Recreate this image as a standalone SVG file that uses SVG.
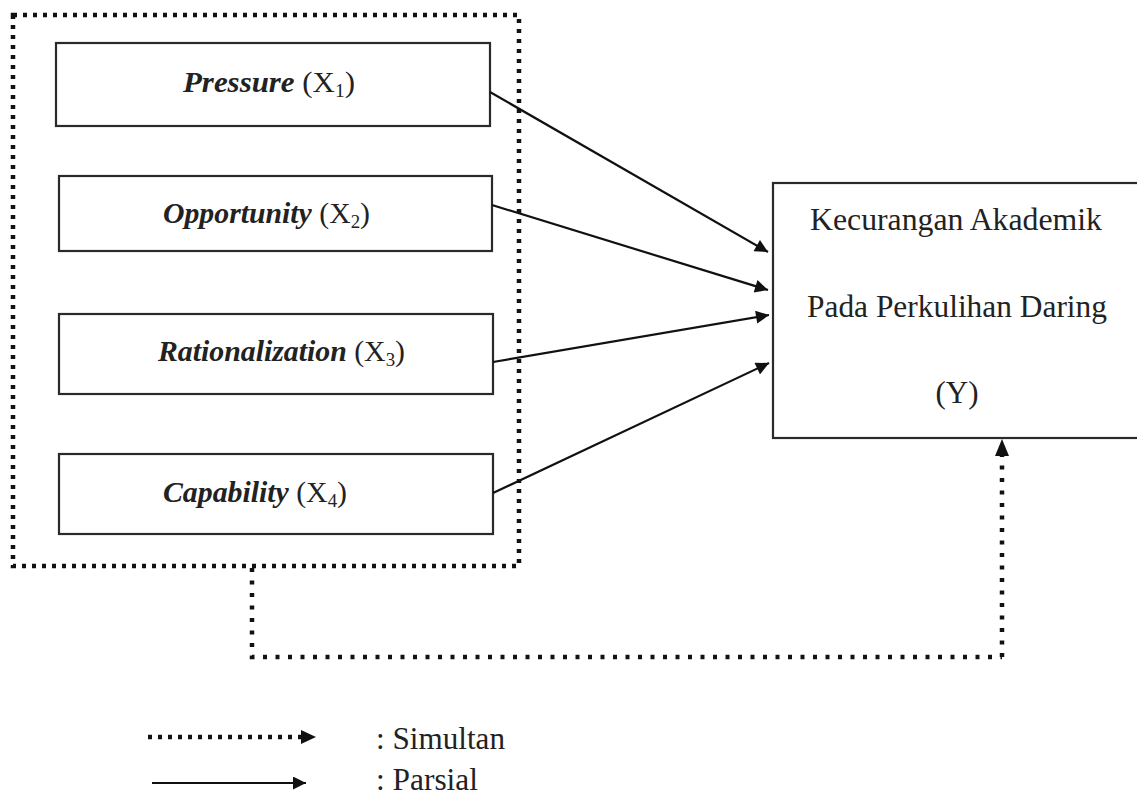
<svg xmlns="http://www.w3.org/2000/svg" width="1137" height="798" viewBox="0 0 1137 798">
<style>
.box{fill:#fff;stroke:#2a2a2a;stroke-width:2.2}
.lbl{font-family:"Liberation Serif","Times New Roman",serif;font-size:30px;fill:#222}
.big{font-size:31px}
.it{font-weight:bold;font-style:italic}
.sub{font-size:19px}
.dot{fill:none;stroke:#111;stroke-width:4.5;stroke-dasharray:4 6}
.dotw{fill:none;stroke:#111;stroke-width:4.5;stroke-dasharray:4 8.5}
.sol{fill:none;stroke:#111;stroke-width:2.2}
</style>
<defs>
<marker id="ah" viewBox="0 0 10 10" refX="10" refY="5" markerWidth="16" markerHeight="13" markerUnits="userSpaceOnUse" orient="auto">
<path d="M0,0 L10,5 L0,10 Z" fill="#111"/>
</marker>
</defs>
<rect width="1137" height="798" fill="#fff"/>
<g id="group-x">
<rect class="dot" x="13" y="15" width="506" height="551"/>
</g>
<g id="x1">
<rect class="box" x="56" y="43" width="434" height="83"/>
<text class="lbl" x="183" y="92" textLength="172" lengthAdjust="spacingAndGlyphs"><tspan class="it">Pressure</tspan> (X<tspan class="sub" dy="5">1</tspan><tspan dy="-5">)</tspan></text>
</g>
<g id="x2">
<rect class="box" x="59" y="176" width="433" height="75"/>
<text class="lbl" x="163" y="223" textLength="207" lengthAdjust="spacingAndGlyphs"><tspan class="it">Opportunity</tspan> (X<tspan class="sub" dy="5">2</tspan><tspan dy="-5">)</tspan></text>
</g>
<g id="x3">
<rect class="box" x="59" y="314" width="434" height="80"/>
<text class="lbl" x="158" y="361" textLength="247" lengthAdjust="spacingAndGlyphs"><tspan class="it">Rationalization</tspan> (X<tspan class="sub" dy="5">3</tspan><tspan dy="-5">)</tspan></text>
</g>
<g id="x4">
<rect class="box" x="59" y="454" width="434" height="80"/>
<text class="lbl" x="163" y="502" textLength="184" lengthAdjust="spacingAndGlyphs"><tspan class="it">Capability</tspan> (X<tspan class="sub" dy="5">4</tspan><tspan dy="-5">)</tspan></text>
</g>
<g id="y">
<rect class="box" x="773" y="183" width="370" height="255"/>
<text class="lbl big" x="810" y="230" textLength="292" lengthAdjust="spacingAndGlyphs">Kecurangan Akademik</text>
<text class="lbl big" x="807" y="317" textLength="300" lengthAdjust="spacingAndGlyphs">Pada Perkulihan Daring</text>
<text class="lbl big" x="957" y="403" text-anchor="middle">(Y)</text>
</g>
<g id="connectors">
<line class="sol" x1="490" y1="92" x2="768" y2="252" marker-end="url(#ah)"/>
<line class="sol" x1="492" y1="205" x2="768" y2="290" marker-end="url(#ah)"/>
<line class="sol" x1="493" y1="362" x2="769" y2="315" marker-end="url(#ah)"/>
<line class="sol" x1="493" y1="493" x2="769" y2="363" marker-end="url(#ah)"/>
<path class="dotw" d="M252,568 L252,657 L1002,657"/>
<path class="dotw" d="M1002,657 L1002,455"/>
<path d="M995,456 L1002,439 L1009,456 Z" fill="#111"/>
</g>
<g id="legend">
<line class="dot" x1="148" y1="737" x2="302" y2="737"/>
<path d="M301,730 L316,737 L301,744 Z" fill="#111"/>
<text class="lbl big" x="376" y="749" textLength="129" lengthAdjust="spacingAndGlyphs">: Simultan</text>
<line class="sol" x1="152" y1="783" x2="306" y2="783" marker-end="url(#ah)"/>
<text class="lbl big" x="376" y="790" textLength="102" lengthAdjust="spacingAndGlyphs">: Parsial</text>
</g>
</svg>
